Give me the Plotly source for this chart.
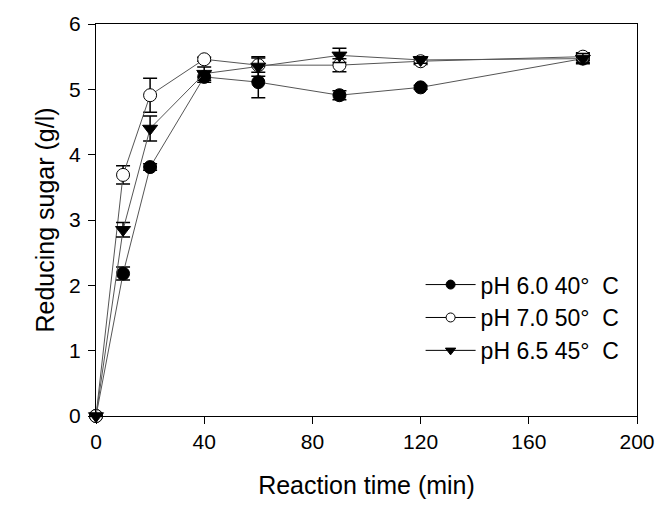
import plotly.graph_objects as go

time_min = [0, 10, 20, 40, 60, 90, 120, 180]

ph60_40 = [0, 2.18, 3.81, 5.19, 5.11, 4.91, 5.03, 5.47]
ph60_40_err = [0, 0.10, 0.05, 0.08, 0.24, 0.07, 0.03, 0.06]

ph70_50 = [0, 3.69, 4.91, 5.46, 5.37, 5.37, 5.43, 5.50]
ph70_50_err = [0, 0.14, 0.26, 0.03, 0.11, 0.10, 0.05, 0.06]

ph65_45 = [0, 2.85, 4.40, 5.24, 5.35, 5.52, 5.45, 5.47]
ph65_45_err = [0, 0.11, 0.19, 0.10, 0.15, 0.11, 0.05, 0.08]

names = ["pH 6.0 40°  C", "pH 7.0 50°  C", "pH 6.5 45°  C"]
series = [ph60_40, ph70_50, ph65_45]
errors = [ph60_40_err, ph70_50_err, ph65_45_err]
symbols = ["circle", "circle", "triangle-down"]
fills = ["black", "white", "black"]

FONT = "Liberation Sans, Arial, sans-serif"
LINE = "#555555"

fig = go.Figure()
for name, y, e, sym, fc in zip(names, series, errors, symbols, fills):
    fig.add_trace(go.Scatter(
        x=time_min, y=y, mode="lines+markers", showlegend=False,
        line=dict(color=LINE, width=1),
        marker=dict(symbol=sym, size=13, color=fc,
                    line=dict(color="black", width=1)),
        error_y=dict(type="data", array=e, visible=True, color="black",
                     thickness=1.5, width=7),
        cliponaxis=False,
    ))
for name, sym, fc in zip(names, symbols, fills):
    fig.add_trace(go.Scatter(
        x=[None], y=[None], mode="lines+markers", name=name,
        line=dict(color="black", width=1),
        marker=dict(symbol=sym, size=9, color=fc,
                    line=dict(color="black", width=1)),
    ))

fig.update_layout(
    width=670, height=508,
    margin=dict(l=96, r=33, t=24, b=92),
    paper_bgcolor="white", plot_bgcolor="white",
    font=dict(family=FONT, size=21, color="black"),
    legend=dict(x=0.6, y=0.39, xanchor="left", yanchor="top",
                bgcolor="rgba(0,0,0,0)", font=dict(size=23),
                tracegroupgap=0, itemwidth=50),
    xaxis=dict(range=[0, 200], tickvals=[0, 40, 80, 120, 160, 200],
               showgrid=False, zeroline=False, showline=True,
               linecolor="black", linewidth=1, mirror=True,
               ticks="outside", ticklen=7, tickcolor="black",
               automargin=False,
               title=dict(text="Reaction time (min)", standoff=24)),
    yaxis=dict(range=[0, 6], tickvals=[0, 1, 2, 3, 4, 5, 6],
               showgrid=False, zeroline=False, showline=True,
               linecolor="black", linewidth=1, mirror=True,
               ticks="outside", ticklen=7, tickcolor="black",
               ticklabelstandoff=3, automargin=False,
               title=dict(text="Reducing sugar (g/l)", standoff=7)),
)

fig.write_html("out.html", config={"displayModeBar": False},
               post_script="document.body.style.margin='0';document.body.style.overflow='hidden';")
